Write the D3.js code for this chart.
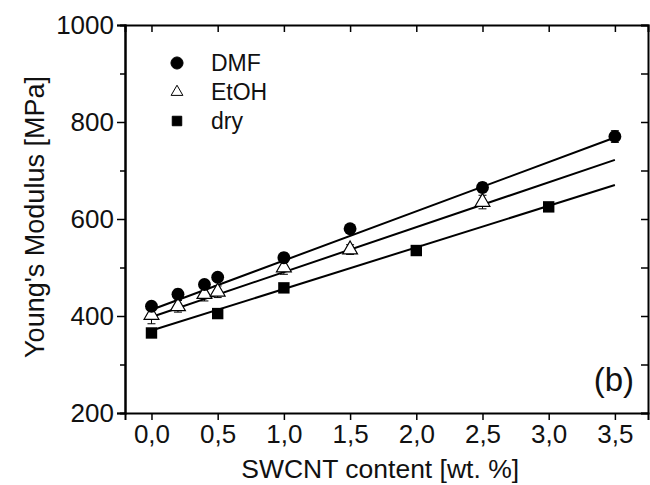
<!DOCTYPE html>
<html>
<head>
<meta charset="utf-8">
<script src="https://cdn.jsdelivr.net/npm/d3@7"></script>
<style>
  body { margin: 0; background: #fff; }
  text { font-family: Arial, "Liberation Sans", sans-serif; fill: #111; }
</style>
</head>
<body>
<div id="chart"></div>
<script>
// data
let dmfX = [0, 0.2, 0.4, 0.5, 1.0, 1.5, 2.5, 3.5];
let dmfY = [420, 445, 465, 480, 520, 580, 665, 770];
let dmfErr = [8, 10, 8, 8, 10, 8, 10, 12];

let etohX = [0, 0.2, 0.4, 0.5, 1.0, 1.5, 2.5];
let etohY = [402, 420, 445, 450, 500, 537, 635];
let etohErr = [18, 12, 14, 12, 14, 10, 14];

let dryX = [0, 0.5, 1.0, 2.0, 3.0];
let dryY = [365, 405, 458, 535, 625];
let dryErr = [6, 6, 6, 5, 5];

// fitted lines, end points
let fitX = [0, 3.5];
let fitDmf = [413, 768];
let fitEtoh = [398, 722];
let fitDry = [370, 670];

let xTicks = [0, 0.5, 1.0, 1.5, 2.0, 2.5, 3.0, 3.5];
let yTicks = [200, 400, 600, 800, 1000];
let yMinor = [300, 500, 700, 900];

let svgWidth = 650;
let svgHeight = 485;
let margin = { top: 25, right: 2, bottom: 72, left: 125 };
let width = svgWidth - margin.left - margin.right;
let height = svgHeight - margin.top - margin.bottom;

let svg = d3.select('#chart').append('svg')
    .attr('width', svgWidth)
    .attr('height', svgHeight);

let g = svg.append('g')
    .attr('transform', `translate(${margin.left}, ${margin.top})`);

let x = d3.scaleLinear().domain([-0.2, 3.75]).range([0, width]);
let y = d3.scaleLinear().domain([200, 1000]).range([height, 0]);

let fmt = d => d3.format('.1f')(d).replace('.', ',');

// bottom axis
g.append('g')
    .attr('transform', `translate(0, ${height})`)
    .call(d3.axisBottom(x).tickValues(xTicks).tickFormat(fmt).tickSize(7).tickPadding(5));
// top axis (ticks inward)
g.append('g')
    .call(d3.axisTop(x).tickValues(xTicks).tickFormat('').tickSize(-7));
// left axis
g.append('g')
    .call(d3.axisLeft(y).tickValues(yTicks).tickFormat(d3.format('d')).tickSize(8).tickPadding(3));
g.append('g')
    .call(d3.axisLeft(y).tickValues(yMinor).tickFormat('').tickSize(5));
// right axis (ticks inward)
g.append('g')
    .attr('transform', `translate(${width}, 0)`)
    .call(d3.axisRight(y).tickValues(yTicks.concat(yMinor)).tickFormat('').tickSize(-7));

g.selectAll('.domain').attr('stroke', '#000').attr('stroke-width', 2);
g.selectAll('.tick line').attr('stroke', '#000').attr('stroke-width', 1.5);
g.selectAll('.tick text').style('font-size', '26px').attr('fill', '#111');

// fit lines
let line = d3.line().x(d => x(d[0])).y(d => y(d[1]));
[fitDmf, fitEtoh, fitDry].forEach(f => {
    g.append('path')
        .datum(fitX.map((v, i) => [v, f[i]]))
        .attr('d', line)
        .attr('fill', 'none')
        .attr('stroke', '#000')
        .attr('stroke-width', 2);
});

// error bars
function errorBars(xs, ys, es) {
    let data = xs.map((v, i) => ({ x: v, y: ys[i], e: es[i] }));
    let eg = g.append('g');
    eg.selectAll('line.v').data(data).enter().append('line')
        .attr('x1', d => x(d.x)).attr('x2', d => x(d.x))
        .attr('y1', d => y(d.y - d.e)).attr('y2', d => y(d.y + d.e))
        .attr('stroke', '#000').attr('stroke-width', 1);
    eg.selectAll('line.lo').data(data).enter().append('line')
        .attr('x1', d => x(d.x) - 4).attr('x2', d => x(d.x) + 4)
        .attr('y1', d => y(d.y - d.e)).attr('y2', d => y(d.y - d.e))
        .attr('stroke', '#000').attr('stroke-width', 1);
    eg.selectAll('line.hi').data(data).enter().append('line')
        .attr('x1', d => x(d.x) - 4).attr('x2', d => x(d.x) + 4)
        .attr('y1', d => y(d.y + d.e)).attr('y2', d => y(d.y + d.e))
        .attr('stroke', '#000').attr('stroke-width', 1);
}
errorBars(dmfX, dmfY, dmfErr);
errorBars(etohX, etohY, etohErr);
errorBars(dryX, dryY, dryErr);

let circleSym = d3.symbol().type(d3.symbolCircle).size(130);
let triSym = d3.symbol().type(d3.symbolTriangle).size(95);
let sqSym = d3.symbol().type(d3.symbolSquare).size(130);

// markers
g.selectAll('.dry').data(dryX).enter().append('path')
    .attr('d', sqSym)
    .attr('transform', (d, i) => `translate(${x(d)}, ${y(dryY[i])})`)
    .attr('fill', '#000');
g.selectAll('.etoh').data(etohX).enter().append('path')
    .attr('d', triSym)
    .attr('transform', (d, i) => `translate(${x(d)}, ${y(etohY[i])})`)
    .attr('fill', '#fff')
    .attr('stroke', '#000')
    .attr('stroke-width', 1.2);
g.selectAll('.dmf').data(dmfX).enter().append('path')
    .attr('d', circleSym)
    .attr('transform', (d, i) => `translate(${x(d)}, ${y(dmfY[i])})`)
    .attr('fill', '#000');

// legend
let legendItems = [
    { name: 'DMF', sym: d3.symbol().type(d3.symbolCircle).size(115), fill: '#000' },
    { name: 'EtOH', sym: d3.symbol().type(d3.symbolTriangle).size(60), fill: '#fff' },
    { name: 'dry', sym: d3.symbol().type(d3.symbolSquare).size(90), fill: '#000' }
];
let legend = g.append('g').attr('transform', 'translate(52, 38)');
legendItems.forEach((item, i) => {
    legend.append('path')
        .attr('d', item.sym)
        .attr('transform', `translate(0, ${i * 29})`)
        .attr('fill', item.fill)
        .attr('stroke', '#000')
        .attr('stroke-width', 1);
    legend.append('text')
        .attr('x', 34)
        .attr('y', i * 29)
        .attr('dy', '0.35em')
        .style('font-size', '23px')
        .text(item.name);
});

// panel label
g.append('text')
    .attr('x', width - 14)
    .attr('y', height - 22)
    .attr('text-anchor', 'end')
    .style('font-size', '33px')
    .text('(b)');

// axis titles
g.append('text')
    .attr('transform', 'rotate(-90)')
    .attr('x', -height / 2 + 2)
    .attr('y', -margin.left + 44)
    .attr('text-anchor', 'middle')
    .style('font-size', '27px')
    .text("Young's Modulus [MPa]");
g.append('text')
    .attr('x', x(1.75) - 3)
    .attr('y', height + 65)
    .attr('text-anchor', 'middle')
    .style('font-size', '26.5px')
    .text('SWCNT content [wt. %]');
</script>
</body>
</html>
